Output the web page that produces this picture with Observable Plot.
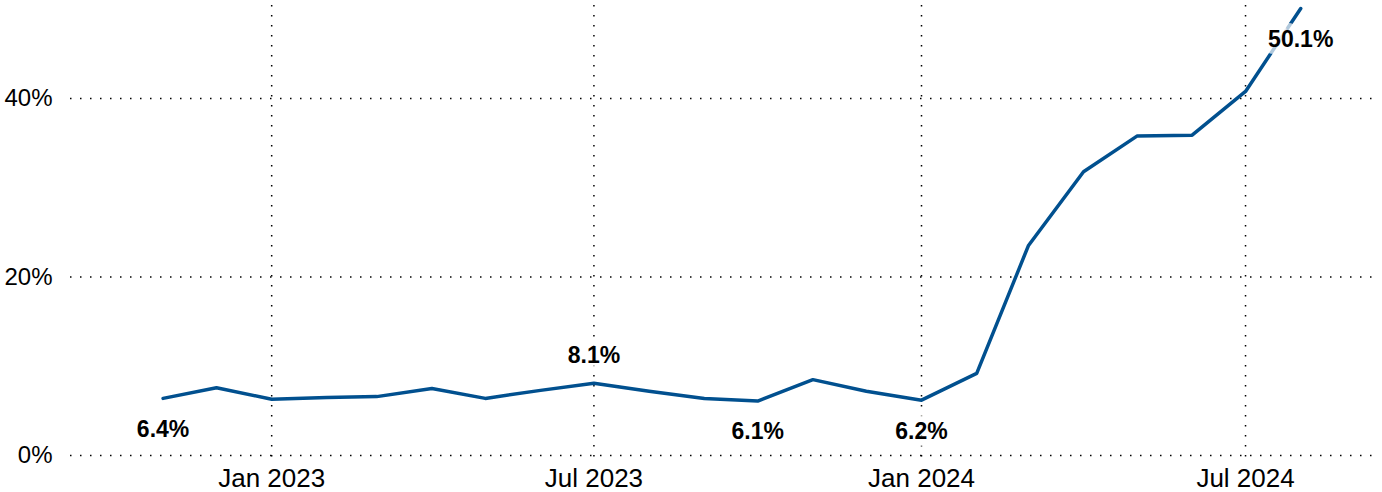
<!DOCTYPE html>
<html>
<head>
<meta charset="utf-8">
<script src="https://cdn.jsdelivr.net/npm/d3@7"></script>
<script src="https://cdn.jsdelivr.net/npm/@observablehq/plot@0.6"></script>
<style>
  html, body { margin: 0; padding: 0; background: #fff; }
  #chart svg { display: block; }
</style>
</head>
<body>
<div id="chart"></div>
<script>
const months = ["2022-11","2022-12","2023-01","2023-02","2023-03","2023-04","2023-05","2023-06","2023-07","2023-08","2023-09","2023-10","2023-11","2023-12","2024-01","2024-02","2024-03","2024-04","2024-05","2024-06","2024-07","2024-08"];
const values = [6.4, 7.6, 6.3, 6.5, 6.6, 7.5, 6.4, 7.3, 8.1, 7.2, 6.4, 6.1, 8.5, 7.2, 6.2, 9.2, 23.5, 31.8, 35.8, 35.9, 40.8, 50.1];
const labelsBelow = ["2022-11","2023-10","2024-01","2024-08"];
const labelsAbove = ["2023-07"];
const xTicks = ["2023-01","2023-07","2024-01","2024-07"];
const yTicks = [0, 20, 40];
const xDomain = ["2022-09-10", "2024-09-12"];

const parseMonth = d3.utcParse("%Y-%m");
const parseDay = d3.utcParse("%Y-%m-%d");
const data = months.map((m, i) => ({date: parseMonth(m), value: values[i], key: m}));
const fmtPct = d => `${d.value.toFixed(1)}%`;

const chart = Plot.plot({
  width: 1382,
  height: 492,
  marginLeft: 70,
  marginRight: 7,
  marginTop: 8,
  marginBottom: 37,
  style: {fontFamily: "'Liberation Sans', Arial, sans-serif", background: "#fff"},
  x: {type: "utc", domain: xDomain.map(parseDay)},
  y: {domain: [0, 50.1]},
  marks: [
    Plot.gridY(yTicks, {stroke: "#000", strokeOpacity: 1, strokeWidth: 1.5, strokeDasharray: "1.5,8.5"}),
    Plot.gridX(xTicks.map(parseMonth), {stroke: "#000", strokeOpacity: 1, strokeWidth: 1.5, strokeDasharray: "1.5,8.5", insetTop: -3, insetBottom: -5}),
    Plot.axisY(yTicks, {tickSize: 0, tickPadding: 18, tickFormat: d => `${d}%`, fontSize: 24, fill: "#000", label: null}),
    Plot.axisX(xTicks.map(parseMonth), {tickSize: 0, tickPadding: 13, tickFormat: d3.utcFormat("%b %Y"), fontSize: 26, fill: "#000", label: null}),
    Plot.lineY(data, {x: "date", y: "value", stroke: "#01508f", strokeWidth: 3.5}),
    Plot.text(data.filter(d => labelsBelow.includes(d.key)), {x: "date", y: "value", text: fmtPct, dy: 31, fontSize: 23, fontWeight: "bold", fill: "#000", stroke: "#fff", strokeWidth: 14, strokeOpacity: 0.7, strokeLinejoin: "round"}),
    Plot.text(data.filter(d => labelsAbove.includes(d.key)), {x: "date", y: "value", text: fmtPct, dy: -28, fontSize: 23, fontWeight: "bold", fill: "#000", stroke: "#fff", strokeWidth: 14, strokeOpacity: 0.7, strokeLinejoin: "round"})
  ]
});
document.getElementById("chart").appendChild(chart);
</script>
</body>
</html>
